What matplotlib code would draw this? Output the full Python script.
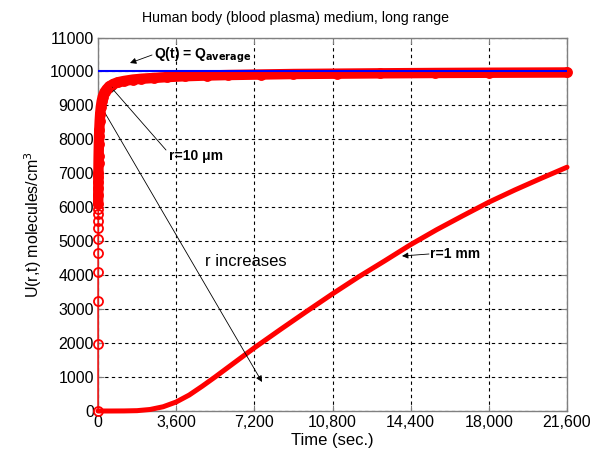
import numpy as np
import matplotlib
matplotlib.use("Agg")
import matplotlib.pyplot as plt
from matplotlib.ticker import FuncFormatter

plt.rcParams['font.family'] = ['Liberation Sans', 'DejaVu Sans']

t_10um = [0, 1, 2, 3, 4, 5, 6, 7, 8, 9, 10, 12, 14, 16, 18, 20, 25, 30, 40, 50,
          60, 80, 100, 130, 170, 220, 300, 400, 520, 700, 900, 1200, 1600, 2000,
          2600, 3200, 4000, 5000, 6000, 7500, 9000, 11000, 13000, 15500, 18000, 21600]
u_10um = [0, 1970, 3250, 4090, 4660, 5070, 5380, 5610, 5800, 5960, 6100, 6350, 6560,
          6740, 6890, 7020, 7300, 7520, 7860, 8100, 8280, 8550, 8750, 8950, 9120, 9260,
          9390, 9480, 9560, 9630, 9680, 9720, 9760, 9785, 9810, 9835, 9860, 9880, 9895,
          9910, 9925, 9935, 9945, 9955, 9962, 9970]

# r = 1 mm curve
t_1mm = [0, 600, 1200, 1800, 2400, 3000, 3600, 4200, 4800, 5400, 6000, 6600, 7200,
         8400, 9600, 10800, 12000, 13200, 14400, 15600, 16800, 18000, 19200, 20400, 21600]
u_1mm = [0, 0, 2, 10, 45, 125, 265, 470, 730, 1005, 1290, 1575, 1860,
         2400, 2930, 3450, 3950, 4420, 4900, 5340, 5750, 6150, 6510, 6850, 7180]

q_avg = 10000
t_end = 21600

xticks = [0, 3600, 7200, 10800, 14400, 18000, 21600]
yticks = list(range(0, 11001, 1000))

fig = plt.figure(figsize=(6.05, 4.58), dpi=100)
ax = fig.add_axes([98 / 605, 1 - 411 / 458, 469 / 605, 373.5 / 458])

red = '#ff0000'
n_sparse = 11
# dense band of overlapping circles -> thick line
ax.plot(t_10um[n_sparse - 1:], u_10um[n_sparse - 1:], color=red, lw=7.5,
        solid_capstyle='round', solid_joinstyle='round', zorder=3, clip_on=False)
ax.plot(t_10um, u_10um, color=red, lw=1, marker='o', ms=6.5, mfc='none', mew=1.3,
        zorder=4, clip_on=False)
ax.plot(t_1mm, u_1mm, color=red, lw=3.6, solid_capstyle='round', zorder=3, clip_on=False)
ax.plot([0, t_end], [q_avg, q_avg], color='#0000ff', lw=1.5, zorder=5)

ax.set_xlim(0, 21600)
ax.set_ylim(0, 11000)
ax.set_xticks(xticks)
ax.set_yticks(yticks)
ax.xaxis.set_major_formatter(FuncFormatter(lambda v, p: f"{int(v):,}"))
ax.grid(True, color='black', linestyle=(0, (3, 3)), lw=0.8)
ax.set_axisbelow(True)
for s in ax.spines.values():
    s.set_color('#808080')
    s.set_linewidth(1.0)
ax.tick_params(direction='in', length=4, top=True, right=True, color='#808080',
               labelsize=11.5, pad=3)

ax.set_xlabel('Time (sec.)', fontsize=12, labelpad=2)
ax.set_ylabel('U(r,t) molecules/cm$^3$', fontsize=11.5, labelpad=4)
fig.text(296 / 605, 1 - 18 / 458, 'Human body (blood plasma) medium, long range',
         ha='center', va='center', fontsize=10.2)

arrow = dict(arrowstyle='-|>', color='black', lw=0.6, mutation_scale=9, shrinkA=0, shrinkB=0)

def px(x, y):
    # figure pixel -> data coordinates
    return ((x - 98) / 469 * 21600, (411 - y) / 373.5 * 11000)

ax.annotate('', xy=px(130, 63), xytext=px(152, 55), arrowprops=arrow)
ax.text(*px(154, 55), 'Q(t) = Q$_{\\mathbf{average}}$', fontsize=10, fontweight='bold',
        ha='left', va='center')

ax.annotate('', xy=px(110, 86), xytext=px(166, 150), arrowprops=arrow)
ax.text(*px(169, 156), 'r=10 \u03bcm', fontsize=10, fontweight='bold', ha='left', va='center')

ax.annotate('', xy=px(262, 382), xytext=px(105, 113), arrowprops=arrow)
ax.text(*px(246, 261), 'r increases', fontsize=12, ha='center', va='center')

ax.annotate('', xy=px(402, 256), xytext=px(429, 254), arrowprops=arrow)
ax.text(*px(430, 254), 'r=1 mm', fontsize=10, fontweight='bold', ha='left', va='center')

fig.savefig('out.png', dpi=100)
